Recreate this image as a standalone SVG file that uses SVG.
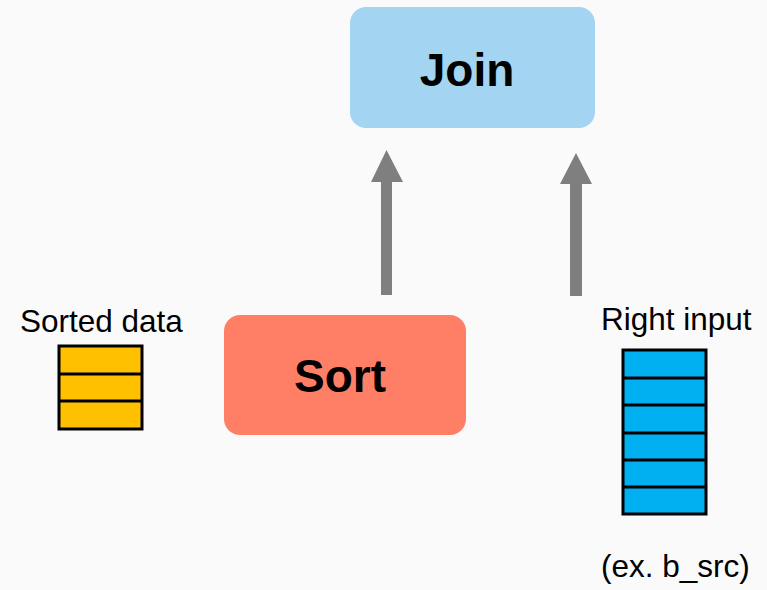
<svg xmlns="http://www.w3.org/2000/svg" width="767" height="590" viewBox="0 0 767 590">
  <style>
    .label { font-family: "Liberation Sans", Arial, sans-serif; font-size: 31.5px; fill: #000; }
    .title { font-family: "Liberation Sans", Arial, sans-serif; font-size: 46px; font-weight: bold; fill: #000; text-anchor: middle; }
    .cell { stroke: #000; stroke-width: 3; }
    .shaft { fill: #7f7f7f; }
  </style>
  <rect x="0" y="0" width="767" height="590" fill="#fafafa"/>

  <g id="join">
    <rect x="350" y="7" width="245" height="121" rx="16" fill="#a3d4f2"/>
    <text class="title" x="467" y="86">Join</text>
  </g>

  <g id="sort">
    <rect x="224" y="315" width="242" height="120" rx="16" fill="#ff7f66"/>
    <text class="title" x="340" y="392">Sort</text>
  </g>

  <g id="sorted-data">
    <text class="label" x="20" y="332">Sorted data</text>
    <rect class="cell" x="59" y="346" width="83" height="83" fill="#ffc000"/>
    <line class="cell" x1="59" y1="374" x2="142" y2="374"/>
    <line class="cell" x1="59" y1="401" x2="142" y2="401"/>
  </g>

  <g id="right-input">
    <text class="label" x="601" y="330">Right input</text>
    <rect class="cell" x="623" y="350" width="83" height="164" fill="#00b0f0"/>
    <line class="cell" x1="623" y1="378" x2="706" y2="378"/>
    <line class="cell" x1="623" y1="405" x2="706" y2="405"/>
    <line class="cell" x1="623" y1="433" x2="706" y2="433"/>
    <line class="cell" x1="623" y1="460" x2="706" y2="460"/>
    <line class="cell" x1="623" y1="487" x2="706" y2="487"/>
    <text class="label" x="601" y="577">(ex. b_src)</text>
  </g>

  <g id="connectors">
    <path class="shaft" d="M381 295 V182 H371 L386.5 150 L403 182 H392 V295 Z"/>
    <path class="shaft" d="M570 296 V184 H560 L576 153 L592 184 H582 V296 Z"/>
  </g>
</svg>
